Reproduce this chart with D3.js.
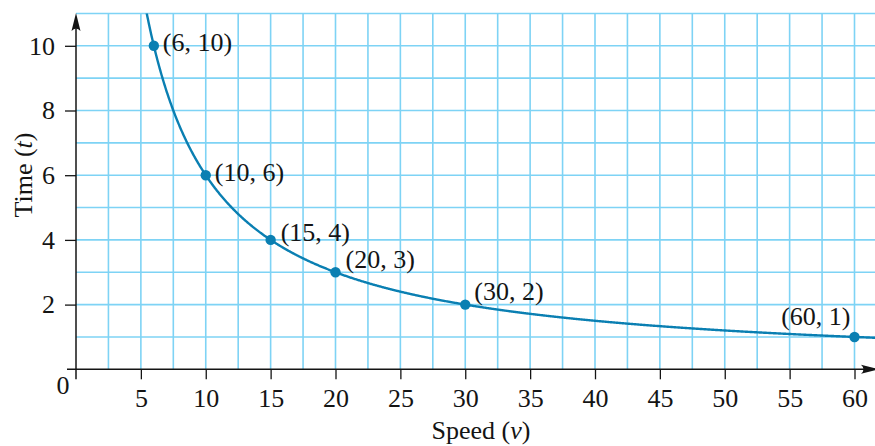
<!DOCTYPE html>
<html>
<head>
<meta charset="utf-8">
<script src="https://cdn.jsdelivr.net/npm/d3@7"></script>
<style>
  html, body { margin: 0; padding: 0; background: #fff; }
  svg { display: block; }
</style>
</head>
<body>
<svg id="chart" width="875" height="446"></svg>
<script>
// Travel time t = 60 / v for a fixed 60-unit trip
const pointSpeeds = [6, 10, 15, 20, 30, 60];
const pointTimes = [10, 6, 4, 3, 2, 1];
const pointLabels = ["(6, 10)", "(10, 6)", "(15, 4)", "(20, 3)", "(30, 2)", "(60, 1)"];
const labelOffsets = [[9, 5], [9, 6], [10, 1], [10, -4], [9, -5], [-4, -12]];
const labelAnchors = ["start", "start", "start", "start", "start", "end"];
const xTickValues = [5, 10, 15, 20, 25, 30, 35, 40, 45, 50, 55, 60];
const yTickValues = [2, 4, 6, 8, 10];
const curveSpeeds = d3.range(5.4, 62.01, 0.05);
const curveTimes = curveSpeeds.map(v => 60 / v);

const W = 875, H = 446;
const FONT = "'Liberation Serif', 'Times New Roman', serif";
const FS = 26;
const ink = "#141414";
const svg = d3.select("#chart");

const x = d3.scaleLinear().domain([0, 60]).range([76, 854.5]);
const y = d3.scaleLinear().domain([0, 10]).range([369.3, 45.8]);

const xEnd = x.invert(W);
const yTop = 11;

const gridColor = "#7ed3f5";
const curveColor = "#0a7fb2";

// Grid
const grid = svg.append("g");
grid.selectAll("line.v")
  .data(d3.range(2.5, xEnd, 2.5))
  .join("line")
  .attr("x1", d => x(d)).attr("x2", d => x(d))
  .attr("y1", y(0)).attr("y2", y(yTop))
  .attr("stroke", gridColor).attr("stroke-width", 1.6);
grid.selectAll("line.h")
  .data(d3.range(1, yTop + 0.01, 1))
  .join("line")
  .attr("x1", x(0)).attr("x2", W)
  .attr("y1", d => y(d)).attr("y2", d => y(d))
  .attr("stroke", gridColor).attr("stroke-width", 1.6);

// Curve, clipped to the grid area
svg.append("clipPath").attr("id", "plot")
  .append("rect").attr("x", x(0)).attr("y", y(yTop)).attr("width", W - x(0)).attr("height", y(0) - y(yTop));
const line = d3.line().x((d, i) => x(curveSpeeds[i])).y(d => y(d));
svg.append("path")
  .datum(curveTimes)
  .attr("clip-path", "url(#plot)")
  .attr("d", line)
  .attr("fill", "none")
  .attr("stroke", curveColor)
  .attr("stroke-width", 2.4);

// Axes
const xAxis = d3.axisBottom(x).tickValues(xTickValues).tickSize(10).tickSizeOuter(0).tickPadding(9);
const xg = svg.append("g").attr("transform", `translate(0,${y(0)})`).call(xAxis);
xg.select(".domain").remove();
xg.selectAll(".tick line").attr("stroke", ink).attr("stroke-width", 1.3);
xg.selectAll(".tick text").style("font-family", FONT).style("font-size", FS + "px").attr("fill", ink);

const yAxis = d3.axisLeft(y).tickValues(yTickValues).tickSize(11).tickSizeOuter(0).tickPadding(10);
const yg = svg.append("g").attr("transform", `translate(${x(0)},0)`).call(yAxis);
yg.select(".domain").remove();
yg.selectAll(".tick line").attr("stroke", ink).attr("stroke-width", 1.3);
yg.selectAll(".tick text").style("font-family", FONT).style("font-size", FS + "px").attr("fill", ink);

// Axis lines with arrowheads
svg.append("line")
  .attr("x1", 67).attr("x2", W)
  .attr("y1", y(0)).attr("y2", y(0))
  .attr("stroke", ink).attr("stroke-width", 1.5);
svg.append("line")
  .attr("x1", x(0)).attr("x2", x(0))
  .attr("y1", y(0) + 10).attr("y2", 24)
  .attr("stroke", ink).attr("stroke-width", 1.5);

const ax = W + 4, ay = y(0);
svg.append("path")
  .attr("d", `M${ax},${ay} L${ax - 18},${ay - 4.5} Q${ax - 13},${ay} ${ax - 18},${ay + 4.5} Z`)
  .attr("fill", ink);
const bx = x(0), by = 13;
svg.append("path")
  .attr("d", `M${bx},${by} L${bx - 4.5},${by + 18} Q${bx},${by + 13} ${bx + 4.5},${by + 18} Z`)
  .attr("fill", ink);

// Origin label
svg.append("text").attr("x", 63).attr("y", 394).attr("text-anchor", "middle")
  .style("font-family", FONT).style("font-size", FS + "px").attr("fill", ink).text("0");

// Axis titles
svg.append("text")
  .attr("x", 481).attr("y", 439).attr("text-anchor", "middle")
  .style("font-family", FONT).style("font-size", FS + "px").attr("fill", ink)
  .html('Speed (<tspan font-style="italic">v</tspan>)');
svg.append("text")
  .attr("transform", "translate(32,175) rotate(-90)")
  .attr("text-anchor", "middle")
  .style("font-family", FONT).style("font-size", FS + "px").attr("fill", ink)
  .html('Time (<tspan font-style="italic">t</tspan>)');

// Points and labels
const pts = pointSpeeds.map((v, i) => ({ v, t: pointTimes[i], label: pointLabels[i], off: labelOffsets[i], anchor: labelAnchors[i] }));
svg.selectAll("circle.pt")
  .data(pts).join("circle")
  .attr("cx", d => x(d.v)).attr("cy", d => y(d.t)).attr("r", 5.2)
  .attr("fill", curveColor);
svg.selectAll("text.pl")
  .data(pts).join("text")
  .attr("x", d => x(d.v) + d.off[0]).attr("y", d => y(d.t) + d.off[1])
  .attr("text-anchor", d => d.anchor)
  .style("font-family", FONT).style("font-size", FS + "px").attr("fill", ink)
  .text(d => d.label);
</script>
</body>
</html>
